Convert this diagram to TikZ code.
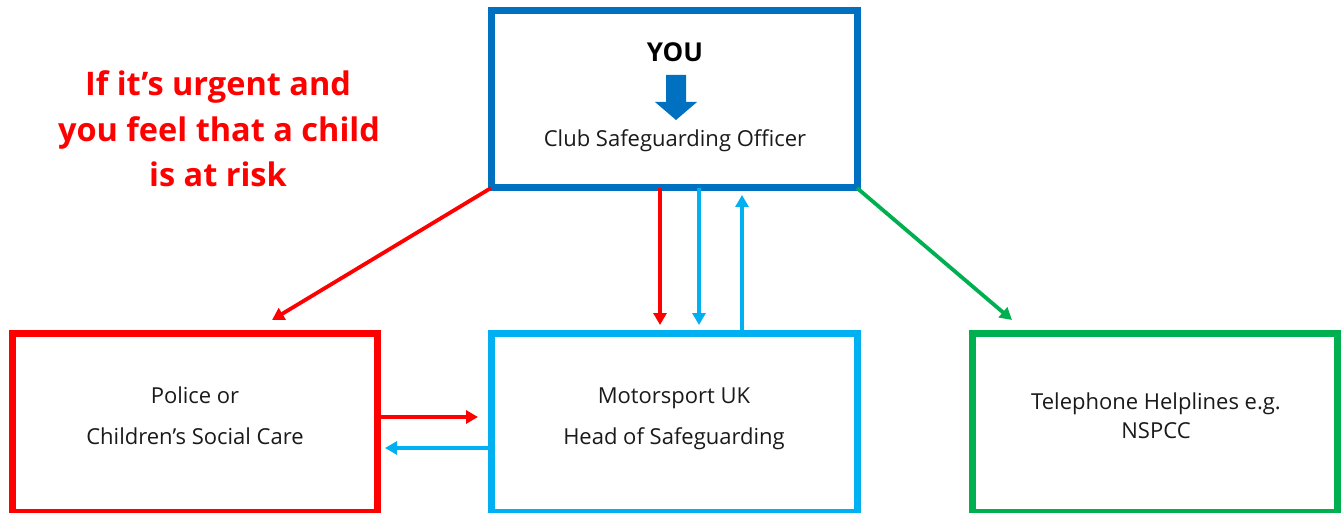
\documentclass[tikz,border=0pt]{standalone}
\usepackage{fontspec}
\setmainfont{Open Sans}
\usetikzlibrary{arrows.meta}
\definecolor{dblue}{HTML}{0070C0}
\definecolor{lblue}{HTML}{00B0F0}
\definecolor{cred}{HTML}{FF0000}
\definecolor{cgreen}{HTML}{00B050}
\definecolor{ink}{HTML}{1A1A1A}
\tikzset{
  box/.style={draw, line width=7pt, rectangle, inner sep=0pt, outer sep=0pt},
  lbl/.style={anchor=base, text=ink, font=\fontsize{22}{26}\selectfont, inner sep=0pt},
  note/.style={anchor=base, text=cred, font=\fontsize{32.5}{36}\selectfont\bfseries, inner sep=0pt},
  conn/.style={line width=3.8pt, -{Triangle[length=12pt,width=13pt]}},
}
\begin{document}
\begin{tikzpicture}[x=1pt,y=-1pt]
\useasboundingbox (0,0) rectangle (1342,513);
\fill[white] (0,0) rectangle (1342,513);
% boxes
\node[box, draw=dblue, minimum width=366pt, minimum height=177pt] (top) at (674,99.5) {};
\node[box, draw=cred, minimum width=365pt, minimum height=179pt] (left) at (194.5,422.5) {};
\node[box, draw=lblue, minimum width=366pt, minimum height=179pt] (mid) at (674,422.5) {};
\node[box, draw=cgreen, minimum width=365pt, minimum height=179pt] (right) at (1154.5,422.5) {};
% heading in top box
\node[anchor=base, text=black, font=\fontsize{26}{30}\selectfont\bfseries, inner sep=0pt] (you) at (675,62) {YOU};
\fill[dblue] (666,75) -- (686,75) -- (686,102) -- (697,102) -- (676,120) -- (655,102) -- (666,102) -- cycle;
\node[lbl] (cso) at (675,147) {Club Safeguarding Officer};
% red note
\node[note] (n1) at (218,96) {If it’s urgent and};
\node[note] (n2) at (219,142) {you feel that a child};
\node[note] (n3) at (218,187) {is at risk};
% box texts
\node[lbl] (p1) at (195,403) {Police or};
\node[lbl] (p2) at (195,444) {Children’s Social Care};
\node[lbl] (m1) at (674,403) {Motorsport UK};
\node[lbl] (m2) at (674,444) {Head of Safeguarding};
\node[lbl] (t1) at (1156,409) {Telephone Helplines e.g.};
\node[lbl] (t2) at (1156,438) {NSPCC};
% connector coordinates
\coordinate (redend) at (272,320);
\coordinate (greenend) at (1012,320);
\coordinate (xr) at (660,0);
\coordinate (xb) at (699,0);
\coordinate (xu) at (742,0);
\coordinate (yr) at (0,417);
\coordinate (yb) at (0,448);
% connectors
\draw[conn, cred] (top.south west) -- (redend);
\draw[conn, cgreen] (top.south east) -- (greenend);
\draw[conn, cred, shorten >=8pt] (top.south -| xr) -- (mid.north -| xr);
\draw[conn, lblue, shorten >=8pt] (top.south -| xb) -- (mid.north -| xb);
\draw[conn, lblue, shorten >=7pt] (mid.north -| xu) -- (top.south -| xu);
\draw[conn, cred, shorten >=13pt] (left.east |- yr) -- (mid.west |- yr);
\draw[conn, lblue, shorten >=8pt] (mid.west |- yb) -- (left.east |- yb);
\end{tikzpicture}
\end{document}
